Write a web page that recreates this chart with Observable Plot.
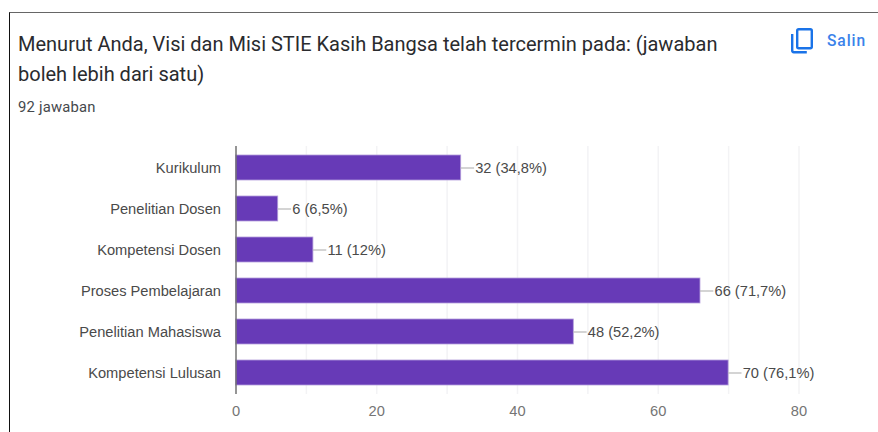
<!DOCTYPE html>
<html>
<head>
<meta charset="utf-8">
<script src="https://cdn.jsdelivr.net/npm/d3@7"></script>
<script src="https://cdn.jsdelivr.net/npm/@observablehq/plot@0.6"></script>
<style>
html,body{margin:0;padding:0;background:#fff;width:878px;height:432px;overflow:hidden}
#page{position:relative;width:878px;height:432px;overflow:hidden}
#frame{position:absolute;left:9px;top:12px;width:880px;height:440px;border-left:1px solid #111;border-top:1px solid #666}
#title{position:absolute;left:18px;top:28.5px;width:730px;font:400 20px/30px Roboto,sans-serif;color:#2a2b2e;margin:0}
#sub{position:absolute;left:18px;top:97px;font:14.8px/20px Roboto,sans-serif;color:#45484c;letter-spacing:.2px}
#salin{position:absolute;left:827px;top:31px;font:500 15.6px/20px Roboto,sans-serif;color:#3b82ea;letter-spacing:.9px}
#icon{position:absolute;left:789px;top:27px}
#chart{position:absolute;left:0;top:134px}
#chart svg{display:block}
</style>
</head>
<body>
<div id="page">
  <div id="frame"></div>
  <h1 id="title">Menurut Anda, Visi dan Misi STIE Kasih Bangsa telah tercermin pada: (jawaban boleh lebih dari satu)</h1>
  <div id="sub">92 jawaban</div>
  <svg id="icon" width="26" height="28" viewBox="0 0 26 28" fill="none" stroke="#1a73e8" stroke-width="2.4">
    <rect x="8.2" y="2.2" width="14.6" height="19" rx="1.5"/>
    <path d="M3.2 7v16.6a1.6 1.6 0 0 0 1.6 1.6h13"/>
  </svg>
  <div id="salin">Salin</div>
  <div id="chart"></div>
</div>
<script>
const categories = ["Kurikulum","Penelitian Dosen","Kompetensi Dosen","Proses Pembelajaran","Penelitian Mahasiswa","Kompetensi Lulusan"];
const counts = [32,6,11,66,48,70];
const percents = ["34,8%","6,5%","12%","71,7%","52,2%","76,1%"];
const xTicks = [0,20,40,60,80];
const gridTicks = [0,10,20,30,40,50,60,70,80];
const rows = categories.map((category,i)=>({category,count:counts[i],label:`${counts[i]} (${percents[i]})`}));
const leader = 1.9;

const plot = Plot.plot({
  width: 878,
  height: 298,
  marginLeft: 235.5,
  marginRight: 79.5,
  marginTop: 12,
  marginBottom: 38,
  style: {fontFamily: "'Liberation Sans', Arial, sans-serif", fontSize: "14.67px", background: "transparent", overflow: "visible"},
  x: {domain: [0,80], label: null},
  y: {domain: categories, paddingInner: 0.38, paddingOuter: 0.19, label: null},
  marks: [
    Plot.ruleX(gridTicks, {x: d=>d, stroke: "#f3f3f5", strokeWidth: 1.5}),
    Plot.ruleY([0], {frameAnchor: "bottom", x1: 0, x2: 80, stroke: "#f1f1f3", strokeWidth: 2}),
    Plot.ruleY([0], {frameAnchor: "top", x1: 0, x2: 80, stroke: "#f5f5f5", strokeWidth: 1}),
    Plot.barX(rows, {x: "count", y: "category", fill: "#673ab7", stroke: "#b39ddb", strokeWidth: 0.8}),
    Plot.ruleX([0], {stroke: "#757575", strokeWidth: 1.5}),
    Plot.ruleY(rows, {y: "category", x1: "count", x2: d=>d.count+leader, stroke: "#b7b7b7", strokeWidth: 1.2}),
    Plot.text(rows, {y: "category", x: "count", text: "label", textAnchor: "start", dx: 14, dy: 0.5, fill: "#4a4a4a", fontSize: 14.67}),
    Plot.axisY({anchor: "left", tickSize: 0, tickPadding: 15, dy: 0.5, fill: "#4a4a4a", fontSize: 14.67, label: null}),
    Plot.axisX(xTicks, {anchor: "bottom", tickSize: 0, tickPadding: 11, fill: "#757575", fontSize: 14.67, label: null})
  ]
});
document.getElementById("chart").append(plot);
</script>
</body>
</html>
